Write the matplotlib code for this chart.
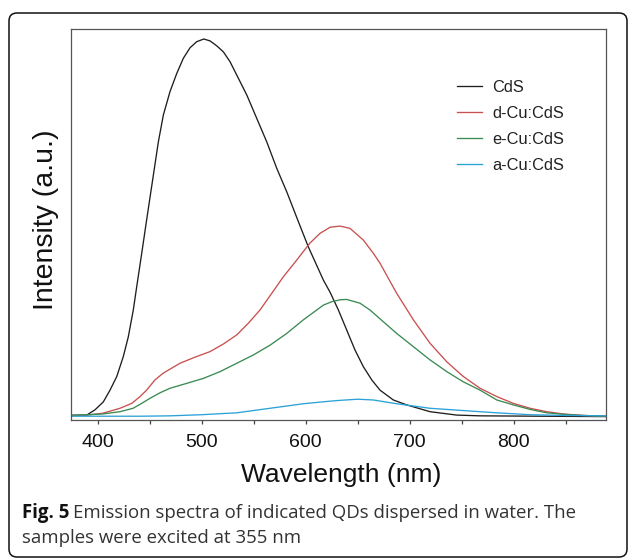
import matplotlib
matplotlib.use("Agg")
import matplotlib.pyplot as plt
from matplotlib.patches import FancyBboxPatch
from matplotlib.ticker import MultipleLocator

# ---------------- data ----------------
cds_wl = [375, 389.4, 397.4, 405.4, 411.8, 418.3, 424.6, 429.4, 434.2, 437.5,
          442.3, 447, 453.5, 458.3, 463.1, 469.5, 476, 482.3, 488.8, 495.2,
          502, 508, 514.4, 520.8, 527.2, 533.6, 543.3, 552.9, 562.5, 572.1,
          581.7, 592.9, 602.5, 617, 623.4, 631.4, 639.4, 647.4, 655.4, 663.5,
          671.4, 684.2, 697, 719.5, 745.2, 767.6, 889]
cds_int = [0.004, 0.005, 0.019, 0.040, 0.071, 0.107, 0.160, 0.212, 0.283, 0.345,
           0.433, 0.521, 0.640, 0.728, 0.799, 0.861, 0.909, 0.949, 0.977, 0.993,
           1.0, 0.995, 0.982, 0.966, 0.940, 0.905, 0.852, 0.790, 0.728, 0.658,
           0.596, 0.517, 0.450, 0.362, 0.330, 0.283, 0.230, 0.177, 0.133, 0.098,
           0.071, 0.045, 0.032, 0.014, 0.005, 0.003, 0.001]

dcu_wl = [375, 390, 405, 421.4, 432.7, 440.7, 447, 455, 463, 479, 493.3, 508,
          520.8, 533.6, 544.8, 556, 567.3, 578.5, 591.3, 604, 613.8, 623.4, 633,
          642.6, 655.4, 665, 671.4, 679.4, 687.5, 703.5, 719.5, 735.6, 751.5,
          767.6, 783.7, 799.6, 815.7, 831.7, 847.7, 866.9, 889]
dcu_int = [0.004, 0.005, 0.010, 0.023, 0.036, 0.054, 0.071, 0.098, 0.116, 0.142,
           0.158, 0.173, 0.193, 0.217, 0.248, 0.283, 0.327, 0.371, 0.415, 0.460,
           0.486, 0.502, 0.505, 0.499, 0.468, 0.433, 0.407, 0.367, 0.327, 0.257,
           0.195, 0.146, 0.107, 0.076, 0.054, 0.036, 0.023, 0.014, 0.008, 0.004,
           0.002]

ecu_wl = [375, 390, 405, 421.4, 434, 442.3, 450, 459.9, 469.5, 485.6, 501.5,
          517.6, 533.6, 549.6, 565.7, 581.7, 597.7, 617, 625, 633, 639.4, 652.2,
          661.8, 674.6, 687.5, 703.5, 719.5, 735.6, 751.5, 767.6, 783.7, 799.6,
          815.7, 831.7, 847.7, 866.9, 889]
ecu_int = [0.005, 0.006, 0.008, 0.014, 0.023, 0.036, 0.049, 0.064, 0.076, 0.089,
           0.102, 0.120, 0.142, 0.164, 0.190, 0.221, 0.257, 0.296, 0.305, 0.310,
           0.311, 0.301, 0.283, 0.252, 0.221, 0.186, 0.151, 0.120, 0.093, 0.071,
           0.045, 0.032, 0.020, 0.011, 0.007, 0.004, 0.002]

acu_wl = [375, 440, 469.5, 500, 533.6, 565.7, 597.7, 620, 633, 650, 665, 687.5,
          719.5, 751.5, 783.7, 815.7, 850, 889]
acu_int = [0.002, 0.002, 0.003, 0.006, 0.011, 0.023, 0.035, 0.041, 0.044, 0.047,
           0.045, 0.035, 0.023, 0.017, 0.011, 0.006, 0.004, 0.003]

labels = ["CdS", "d-Cu:CdS", "e-Cu:CdS", "a-Cu:CdS"]
colors = ["#1e1e1e", "#c8504f", "#3a8a52", "#2aa2d8"]

xticks = [400, 500, 600, 700, 800]

# ---------------- figure ----------------
W, H = 629, 559
fig = plt.figure(figsize=(W / 100, H / 100), dpi=100)
plt.rcParams['font.family'] = ['Liberation Sans', 'DejaVu Sans']

# outer rounded frame
frame = FancyBboxPatch((9 / 100, 2 / 100), 618 / 100, 544 / 100,
                       boxstyle="round,pad=0,rounding_size=0.08",
                       transform=fig.dpi_scale_trans, fill=False,
                       edgecolor="#111111", linewidth=1.1)
fig.patches.append(frame)

ax_l, ax_r, ax_t, ax_b = 71, 606, 29.3, 420
ax = fig.add_axes([ax_l / W, 1 - ax_b / H, (ax_r - ax_l) / W, (ax_b - ax_t) / H])

series = [(cds_wl, cds_int), (dcu_wl, dcu_int), (ecu_wl, ecu_int), (acu_wl, acu_int)]
for (wl, it), lab, col in zip(series, labels, colors):
    ax.plot(wl, it, color=col, lw=0.95, label=lab)

ax.set_xlim(374.3, 888.7)
ax.set_ylim(-0.008, 1.0257)
ax.set_xticks(xticks)
ax.xaxis.set_minor_locator(MultipleLocator(50))
ax.set_yticks([])
ax.tick_params(axis='x', which='major', direction='out', length=3.2, width=0.9,
               color='#444444', labelsize=14, pad=7, labelcolor='#111111')
ax.tick_params(axis='x', which='minor', direction='out', length=3.0, width=0.9,
               color='#444444')
for s in ax.spines.values():
    s.set_color('#555555')
    s.set_linewidth(0.9)

fig.text(341 / W, 1 - 475 / H, "Wavelength (nm)", ha='center', va='center',
         fontsize=19, color='#111111')
fig.text(46 / W, 1 - 219.5 / H, "Intensity (a.u.)", ha='center', va='center',
         rotation=90, fontsize=20.5, color='#111111')

leg = ax.legend(loc='upper left', bbox_to_anchor=(457 / W, 1 - 79.5 / H),
                bbox_transform=fig.transFigure, frameon=False, fontsize=11.8,
                handlelength=1.55, handletextpad=0.62, labelspacing=0.68,
                borderpad=0, borderaxespad=0)
for t in leg.get_texts():
    t.set_color('#222222')

# caption
cap_font = ['Open Sans', 'DejaVu Sans']
cap_fs = 13.4
fig.canvas.draw()
r = fig.canvas.get_renderer()
t1 = fig.text(22 / W, 1 - 518.3 / H, "Fig. 5", ha='left', va='baseline',
              fontsize=cap_fs, fontweight='bold', family=cap_font, color='#111111')
bb = t1.get_window_extent(renderer=r)
x_next = (bb.x1 + 4) / W
fig.text(x_next, 1 - 518.3 / H,
         "Emission spectra of indicated QDs dispersed in water. The",
         ha='left', va='baseline', fontsize=cap_fs, family=cap_font, color='#333333')
fig.text(22 / W, 1 - 543.3 / H, "samples were excited at 355 nm",
         ha='left', va='baseline', fontsize=cap_fs, family=cap_font, color='#333333')

fig.savefig("out.png", dpi=100)
